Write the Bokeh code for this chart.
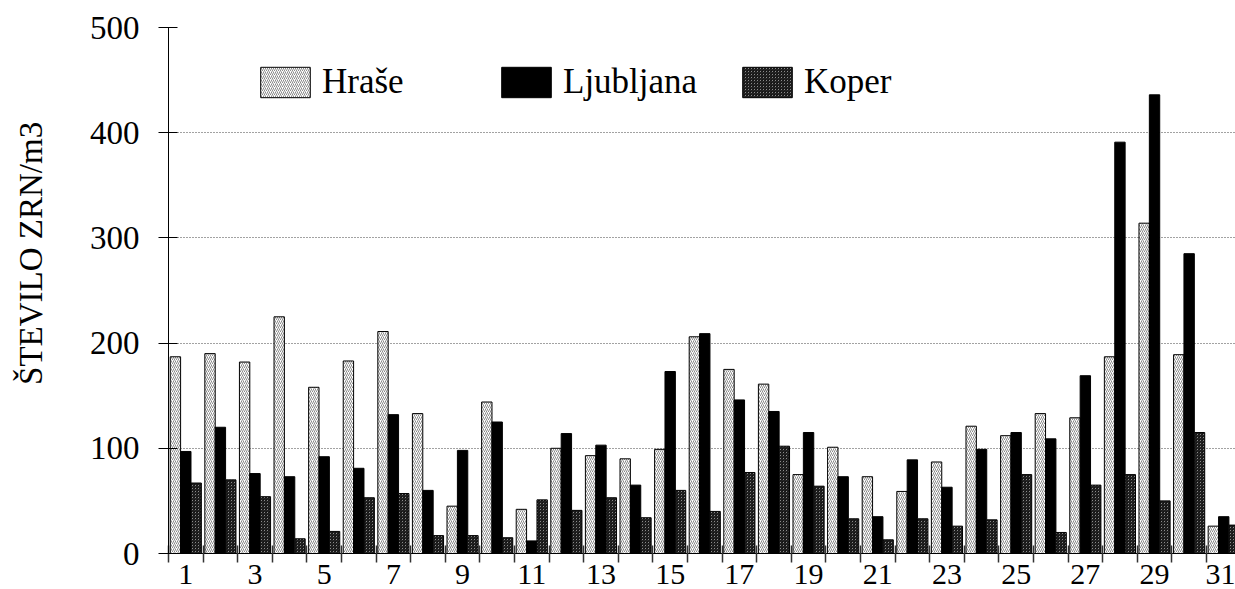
from bokeh.plotting import figure
from bokeh.models import (ColumnDataSource, FixedTicker, Legend, LegendItem, Range1d)
from bokeh.transform import dodge
from bokeh.embed import file_html
from bokeh.resources import INLINE

# ---- data ----
days = list(range(1, 32))
hrase = [187, 190, 182, 225, 158, 183, 211, 133, 45, 144, 42, 100, 93, 90, 99, 206,
         175, 161, 75, 101, 73, 59, 87, 121, 112, 133, 129, 187, 314, 189, 26]
ljubljana = [97, 120, 76, 73, 92, 81, 132, 60, 98, 125, 12, 114, 103, 65, 173, 209,
             146, 135, 115, 73, 35, 89, 63, 99, 115, 109, 169, 391, 436, 285, 35]
koper = [67, 70, 54, 14, 21, 53, 57, 17, 17, 15, 51, 41, 53, 34, 60, 40,
         77, 102, 64, 33, 13, 33, 26, 32, 75, 20, 65, 75, 50, 115, 27]
series_names = ["Hraše", "Ljubljana", "Koper"]
x_label_days = list(range(1, 32, 2))
x_tick_labels = [str(d) for d in x_label_days]
y_ticks = [0, 100, 200, 300, 400, 500]
grid_values = [100, 200, 300, 400]
y_title = "ŠTEVILO ZRN/m3"

FONT = "Liberation Serif"

src = ColumnDataSource(dict(day=days, hrase=hrase, ljubljana=ljubljana, koper=koper))

p = figure(width=1235, height=589, output_backend="svg", toolbar_location=None,
           x_range=Range1d(0.5, 31.34), y_range=Range1d(0, 500),
           min_border_left=168, min_border_right=0, min_border_top=27,
           min_border_bottom=36)
p.outline_line_color = None
p.background_fill_color = "white"
p.border_fill_color = "white"

bw = 0.3
r_h = p.vbar(x=dodge("day", -0.3, range=p.x_range), top="hrase", width=bw, source=src,
             fill_color="white", hatch_pattern="/", hatch_color="#8a8a8a",
             hatch_scale=4, hatch_weight=1, line_color="black", line_width=1)
r_l = p.vbar(x=dodge("day", 0.0, range=p.x_range), top="ljubljana", width=bw, source=src,
             fill_color="black", line_color="black", line_width=1)
r_k = p.vbar(x=dodge("day", 0.3, range=p.x_range), top="koper", width=bw, source=src,
             fill_color="white", hatch_pattern="\\", hatch_color="#111111",
             hatch_scale=3, hatch_weight=1.3, line_color="black", line_width=1)

# ---- x axis: labels on odd days, tick marks on day boundaries ----
boundaries = [d + 0.5 for d in range(0, 32)]
p.xaxis.ticker = FixedTicker(ticks=x_label_days, minor_ticks=boundaries)
p.xaxis.major_label_overrides = {d: t for d, t in zip(x_label_days, x_tick_labels)}
p.xaxis.major_tick_in = 0
p.xaxis.major_tick_out = 0
p.xaxis.minor_tick_in = 8
p.xaxis.minor_tick_out = 9
p.xaxis.minor_tick_line_color = "#333333"
p.xaxis.minor_tick_line_width = 1.5
p.xaxis.axis_line_color = "black"
p.xaxis.axis_line_width = 1
p.xaxis.major_label_text_font = FONT
p.xaxis.major_label_text_font_size = "30px"
p.xaxis.major_label_text_color = "black"
p.xaxis.major_label_standoff = 2

# ---- y axis ----
p.yaxis.ticker = FixedTicker(ticks=y_ticks)
p.yaxis.minor_tick_line_color = None
p.yaxis.major_tick_in = 9
p.yaxis.major_tick_out = 10
p.yaxis.major_tick_line_color = "black"
p.yaxis.axis_line_color = "black"
p.yaxis.major_label_text_font = FONT
p.yaxis.major_label_text_font_size = "33px"
p.yaxis.major_label_text_color = "black"
p.yaxis.major_label_standoff = 19
# non-breaking spaces lift the centred title to where the reference places it
p.yaxis.axis_label = "\u00a0" * 9 + y_title
p.yaxis.axis_label_text_font = FONT
p.yaxis.axis_label_text_font_size = "33px"
p.yaxis.axis_label_text_font_style = "normal"
p.yaxis.axis_label_text_color = "black"
p.yaxis.axis_label_standoff = 38

p.xgrid.visible = False
p.ygrid.ticker = FixedTicker(ticks=grid_values)
p.ygrid.grid_line_color = "#444444"
p.ygrid.grid_line_dash = "1 2"
p.ygrid.grid_line_width = 1

# ---- legend ----
legend = Legend(items=[LegendItem(label=series_names[0], renderers=[r_h]),
                       LegendItem(label=series_names[1], renderers=[r_l]),
                       LegendItem(label=series_names[2], renderers=[r_k])],
                orientation="horizontal", location=(86, 451),
                glyph_width=62, glyph_height=38, label_standoff=6,
                label_width=173, spacing=0, padding=0, margin=0,
                border_line_color=None, background_fill_color=None,
                label_text_font=FONT, label_text_font_size="35px",
                label_text_color="black")
p.add_layout(legend)

open("out.html", "w").write(file_html(p, INLINE))
